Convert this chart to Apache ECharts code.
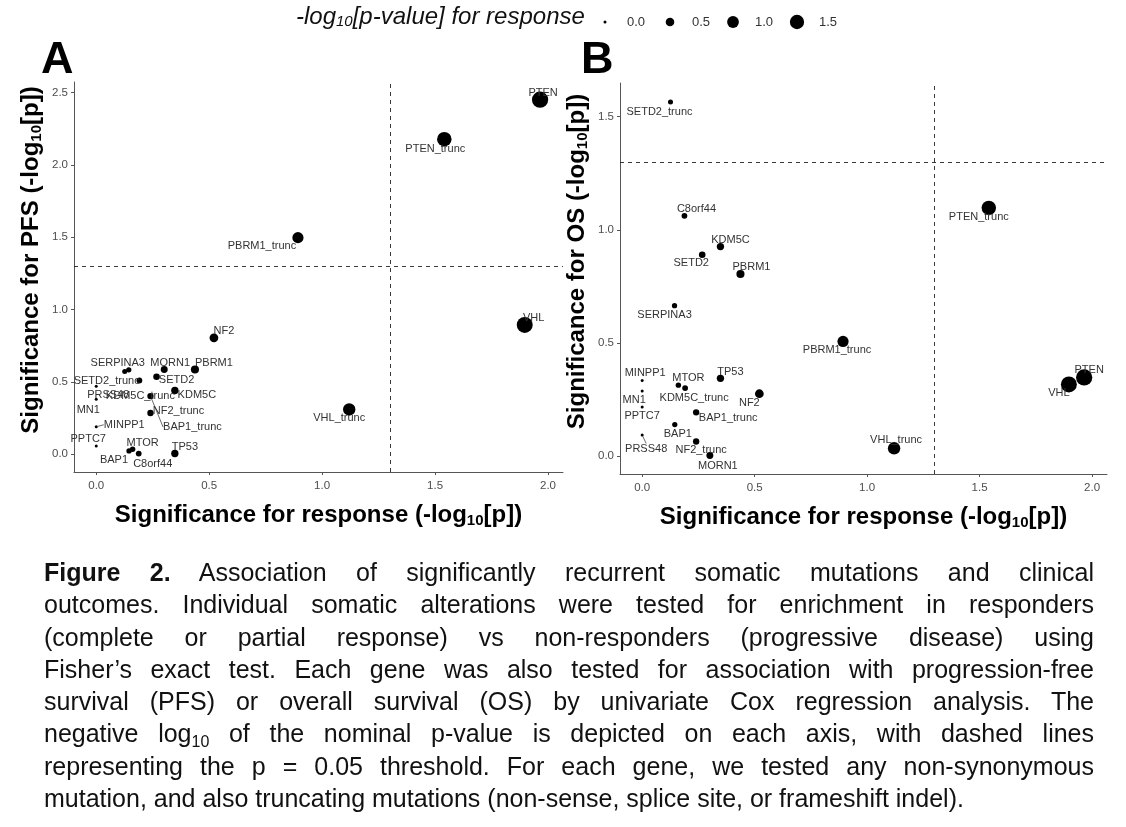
<!DOCTYPE html>
<html>
<head>
<meta charset="utf-8">
<script src="https://cdn.jsdelivr.net/npm/echarts@6/dist/echarts.min.js"></script>
<style>
html,body{margin:0;padding:0;background:#fff;}
#chart{position:absolute;left:0;top:0;width:1126px;height:827px;}
#caption{position:absolute;left:44px;top:556px;width:1050px;font-family:"Liberation Sans",Arial,sans-serif;font-size:25px;line-height:32.3px;color:#111;}
#caption .j{text-align:justify;text-align-last:justify;}
#caption sub{font-size:16px;line-height:0;vertical-align:-5px;}
</style>
</head>
<body>
<div id="chart"></div>
<div id="caption">
<div class="j"><b>Figure 2.</b> Association of significantly recurrent somatic mutations and clinical</div>
<div class="j">outcomes. Individual somatic alterations were tested for enrichment in responders</div>
<div class="j">(complete or partial response) vs non-responders (progressive disease) using</div>
<div class="j">Fisher’s exact test. Each gene was also tested for association with progression-free</div>
<div class="j">survival (PFS) or overall survival (OS) by univariate Cox regression analysis. The</div>
<div class="j">negative log<sub>10</sub> of the nominal p-value is depicted on each axis, with dashed lines</div>
<div class="j">representing the p = 0.05 threshold. For each gene, we tested any non-synonymous</div>
<div>mutation, and also truncating mutations (non-sense, splice site, or frameshift indel).</div>
</div>
<script>
// ---------------- data ----------------
const genes = ['PTEN','PTEN_trunc','PBRM1','PBRM1_trunc','VHL','VHL_trunc','NF2','NF2_trunc','SETD2','SETD2_trunc','KDM5C','KDM5C_trunc','BAP1','BAP1_trunc','TP53','MTOR','SERPINA3','MORN1','C8orf44','MINPP1','MN1','PPTC7','PRSS48'];
const responseSig = [1.965,1.541,0.437,0.893,1.897,1.120,0.521,0.240,0.267,0.126,0.348,0.191,0.145,0.240,0.348,0.161,0.144,0.301,0.188,0,0,0,0];
const pfsSig = [2.450,2.177,0.586,1.497,0.894,0.310,0.805,0.285,0.536,0.572,0.441,0.510,0.023,0.402,0.005,0.034,0.584,0.586,0.005,0.190,0.380,0.057,0.470];
const osSig = [0.348,1.097,0.805,0.507,0.317,0.035,0.276,0.065,0.890,1.565,0.926,0.301,0.140,0.194,0.344,0.314,0.665,0.003,1.062,0.335,0.288,0.217,0.094];
const tickValuesX = [0,0.5,1,1.5,2];
const tickValuesPFS = [0,0.5,1,1.5,2,2.5];
const tickValuesOS = [0,0.5,1,1.5];
const legendValues = [0,0.5,1,1.5];
const pThreshold = 0.05;

// ---------------- label placement (repelled labels, px) ----------------
const labelOffsetA = [[3,-7],[-9,10],[19,-7],[-36,8],[9,-7],[-10,9],[10,-7],[28,-2],[20,3],[-18,9],[22,5],[1,15],[-15,9],[42,31],[10,-7],[10,-6],[-11,-7],[6,-7],[14,10],[28,-2],[-8,11],[-8,-7],[12,9]];
const labelOffsetB = [[5,-7],[-10,9],[11,-7],[-6,9],[-10,9],[2,-8],[-10,9],[5,8],[-11,8],[-11,10],[10,-7],[9,10],[3,9],[32,6],[10,-6],[10,-7],[-10,9],[8,10],[12,-7],[3,-7],[-8,9],[0,9],[4,14]];
const guideA = ['BAP1_trunc','MINPP1'];
const guideB = ['PRSS48','VHL_trunc'];

const FONT = '"Liberation Sans", Arial, sans-serif';
const thr = -Math.log10(pThreshold);
const sizeFn = v => Math.sqrt(9 + 130 * v);

function makeData(ys, guides){
  return genes.map((g,i)=>({
    name: g,
    value: [responseSig[i], ys[i]],
    labelLine: {show: guides.indexOf(g) >= 0}
  }));
}

const titleRich = {
  b: {fontFamily: FONT, fontWeight: 'bold', fontSize: 24, color: '#000'},
  sub: {fontFamily: FONT, fontWeight: 'bold', fontSize: 15, color: '#000', verticalAlign: 'bottom', padding: [10,0,0,0]}
};

function xAxisCfg(gi){
  return {
    gridIndex: gi, type: 'value', min: -0.0985, max: 2.0665,
    splitLine: {show: false},
    axisLine: {onZero: false, lineStyle: {color: '#555', width: 1}},
    axisTick: {show: true, length: 3, customValues: tickValuesX, lineStyle: {color: '#555'}},
    axisLabel: {customValues: tickValuesX, formatter: v => v.toFixed(1), color: '#4d4d4d', fontSize: 11.5, fontFamily: FONT, margin: 8},
    name: '{b|Significance for response (-log}{sub|10}{b|[p])}',
    nameLocation: 'middle', nameGap: 31,
    nameTextStyle: {rich: titleRich}
  };
}
function yAxisCfg(gi, min, max, ticks, label){
  return {
    gridIndex: gi, type: 'value', min: min, max: max,
    splitLine: {show: false},
    axisLine: {onZero: false, lineStyle: {color: '#555', width: 1}},
    axisTick: {show: true, length: 3, customValues: ticks, lineStyle: {color: '#555'}},
    axisLabel: {customValues: ticks, formatter: v => v.toFixed(1), color: '#4d4d4d', fontSize: 11.5, fontFamily: FONT, margin: 6},
    name: '{b|Significance for ' + label + ' (-log}{sub|10}{b|[p])}',
    nameLocation: 'middle', nameGap: 30,
    nameTextStyle: {rich: titleRich, padding: [0,0,0,34]}
  };
}

function seriesCfg(gi, ys, offsets, guides){
  return {
    type: 'scatter', xAxisIndex: gi, yAxisIndex: gi,
    data: makeData(ys, guides),
    symbol: 'circle',
    symbolSize: v => sizeFn(v[0]),
    itemStyle: {color: '#000', opacity: 1},
    label: {show: true, position: 'inside', formatter: p => p.name, color: '#333', fontSize: 11, fontFamily: FONT},
    labelLine: {lineStyle: {color: '#444', width: 0.8}},
    labelLayout: p => ({dx: offsets[p.dataIndex][0], dy: offsets[p.dataIndex][1]}),
    emphasis: {disabled: true},
    clip: false,
    markLine: {
      silent: true, symbol: 'none', label: {show: false},
      lineStyle: {type: [4,4], color: '#222', width: 0.9},
      data: [{xAxis: thr}, {yAxis: thr}]
    },
    z: 3
  };
}

// legend graphics
const legendGraphics = [];
legendGraphics.push({
  type: 'text', left: 296, top: 5,
  style: {
    text: '{t|-log}{s|10}{t|[p-value] for response}',
    rich: {
      t: {fontFamily: FONT, fontStyle: 'italic', fontSize: 24, fill: '#111'},
      s: {fontFamily: FONT, fontStyle: 'italic', fontSize: 15, fill: '#111', verticalAlign: 'bottom', padding: [10,0,0,0]}
    }
  }
});
const legendX = [605, 670, 733, 797];
legendValues.forEach((v,i)=>{
  const d = sizeFn(v);
  legendGraphics.push({type: 'circle', shape: {cx: legendX[i], cy: 22, r: d/2}, style: {fill: '#000'}});
  legendGraphics.push({type: 'text', x: legendX[i] + 22, y: 22, style: {text: v.toFixed(1), fontFamily: FONT, fontSize: 13, fill: '#333', verticalAlign: 'middle'}});
});
legendGraphics.push({type: 'text', x: 41, y: 38, style: {text: 'A', fontFamily: FONT, fontWeight: 'bold', fontSize: 45, fill: '#000'}});
legendGraphics.push({type: 'text', x: 581, y: 38, style: {text: 'B', fontFamily: FONT, fontWeight: 'bold', fontSize: 45, fill: '#000'}});

const chart = echarts.init(document.getElementById('chart'), null, {renderer: 'canvas'});
chart.setOption({
  animation: false,
  backgroundColor: '#fff',
  grid: [
    {left: 74, top: 82, width: 489, height: 390},
    {left: 620, top: 83, width: 487, height: 391}
  ],
  xAxis: [xAxisCfg(0), xAxisCfg(1)],
  yAxis: [
    yAxisCfg(0, -0.1225, 2.5725, tickValuesPFS, 'PFS'),
    yAxisCfg(1, -0.0785, 1.6485, tickValuesOS, 'OS')
  ],
  series: [
    seriesCfg(0, pfsSig, labelOffsetA, guideA),
    seriesCfg(1, osSig, labelOffsetB, guideB)
  ],
  graphic: legendGraphics
});
</script>
</body>
</html>
